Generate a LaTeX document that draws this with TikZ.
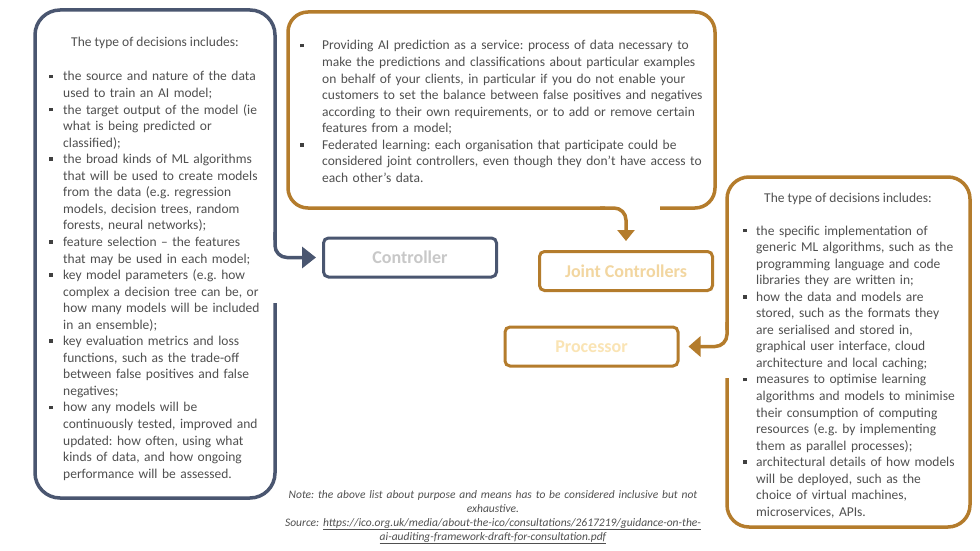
\documentclass[tikz,border=0pt]{standalone}
\usepackage{fontspec}
\setmainfont{Carlito}
\usetikzlibrary{arrows.meta}
\definecolor{bluec}{HTML}{4A5670}
\definecolor{orangec}{HTML}{B47C2C}
\definecolor{txt}{HTML}{505050}
\definecolor{ctrltxt}{HTML}{C8C8C8}
\definecolor{jctxt}{HTML}{F2D6A0}
\definecolor{proctxt}{HTML}{FAE4B4}
\frenchspacing
\newlength\bl
\newcommand\sqb{\raisebox{2.6pt}{\textcolor{txt!80!black}{\rule{3.8pt}{3.8pt}}}}
\newcommand\itm[1]{\hangindent=\bl\hangafter=1\noindent\makebox[\bl][l]{\sqb}#1\par}
\newcommand\nl{\newline}
\begin{document}
\begin{tikzpicture}[x=1pt,y=-1pt,
  body/.style={anchor=base west, inner sep=0pt, text width=#1, align=left, text=txt,
    font=\fontsize{13.5}{16.55}\selectfont},
  head/.style={anchor=base, inner sep=0pt, text=txt, font=\fontsize{13.5}{16.55}\selectfont},
  bigline/.style={line width=3.5pt},
  smallbox/.style={draw, rounded corners=5pt, line width=3pt, minimum width=173pt, minimum height=39pt, inner sep=0pt, font=\fontsize{18}{20}\selectfont\bfseries},
  conn/.style={line width=3.5pt, rounded corners=12pt}
]
\fill[white] (0,0) rectangle (980,551);
\useasboundingbox (0,0) rectangle (980,551);

% small nodes
\node[smallbox, draw=bluec, text=ctrltxt] (ctrl) at (410,257.5) {Controller};
\node[smallbox, draw=orangec, text=jctxt] (jc) at (626,271) {Joint Controllers};
\node[smallbox, draw=orangec, text=proctxt] (proc) at (591.5,346.5) {Processor};

% left box
\draw[bluec, bigline, rounded corners=25pt] (275,303) -- (275,498) -- (35,498) -- (35,10) -- (275,10) -- (275,240);
\draw[bluec, conn, -{Triangle[length=14pt,width=21pt]}, shorten >=6pt] (275,232) |- (ctrl.west);

% top box
\draw[orangec, bigline, rounded corners=20pt] (660,208) -- (715,208) -- (715,12) -- (288,12) -- (288,208) -- (605,208);
\draw[orangec, conn, -{Triangle[length=11pt,width=17pt]}, shorten >=9pt] (600,208) -| (jc.north);

% right box
\draw[orangec, bigline, rounded corners=22pt] (727,378) -- (727,527) -- (970,527) -- (970,177) -- (727,177) -- (727,330);
\draw[orangec, conn, -{Triangle[length=12pt,width=20pt]}, shorten >=9pt] (727,322) |- (proc.east);

% left text
\node[head] (lhead) at (155,47) {The type of decisions includes:};
\setlength\bl{14pt}
\node[body=225pt] (lbody) at (49,81) {%
\itm{the source and nature of the data\nl used to train an AI model;}
\itm{the target output of the model (ie\nl what is being predicted or\nl classified);}
\itm{the broad kinds of ML algorithms\nl that will be used to create models\nl from the data (e.g. regression\nl models, decision trees, random\nl forests, neural networks);}
\itm{feature selection – the features\nl that may be used in each model;}
\itm{key model parameters (e.g. how\nl complex a decision tree can be, or\nl how many models will be included\nl in an ensemble);}
\itm{key evaluation metrics and loss\nl functions, such as the trade-off\nl between false positives and false\nl negatives;}
\itm{how any models will be\nl continuously tested, improved and\nl updated: how often, using what\nl kinds of data, and how ongoing\nl performance will be assessed.}};

% top text
\setlength\bl{22pt}
\node[body=410pt] (tbody) at (300,50) {%
\itm{Providing AI prediction as a service: process of data necessary to\nl make the predictions and classifications about particular examples\nl on behalf of your clients, in particular if you do not enable your\nl customers to set the balance between false positives and negatives\nl according to their own requirements, or to add or remove certain\nl features from a model;}
\itm{Federated learning: each organisation that participate could be\nl considered joint controllers, even though they don’t have access to\nl each other’s data.}};

% right text
\node[head] (rhead) at (848,202) {The type of decisions includes:};
\setlength\bl{13pt}
\node[body=222pt] (rbody) at (743,235) {%
\itm{the specific implementation of\nl generic ML algorithms, such as the\nl programming language and code\nl libraries they are written in;}
\itm{how the data and models are\nl stored, such as the formats they\nl are serialised and stored in,\nl graphical user interface, cloud\nl architecture and local caching;}
\itm{measures to optimise learning\nl algorithms and models to minimise\nl their consumption of computing\nl resources (e.g. by implementing\nl them as parallel processes);}
\itm{architectural details of how models\nl will be deployed, such as the\nl choice of virtual machines,\nl microservices, APIs.}};

% note
\node[anchor=base, inner sep=0pt, text width=470pt, align=center, text=txt, font=\fontsize{11.5}{14}\selectfont\itshape] (note) at (493,498) {%
Note: the above list about purpose and means has to be considered inclusive but not\\
exhaustive.\\
Source: \underline{https://ico.org.uk/media/about-the-ico/consultations/2617219/guidance-on-the-}\\
\underline{ai-auditing-framework-draft-for-consultation.pdf}};
\end{tikzpicture}
\end{document}
